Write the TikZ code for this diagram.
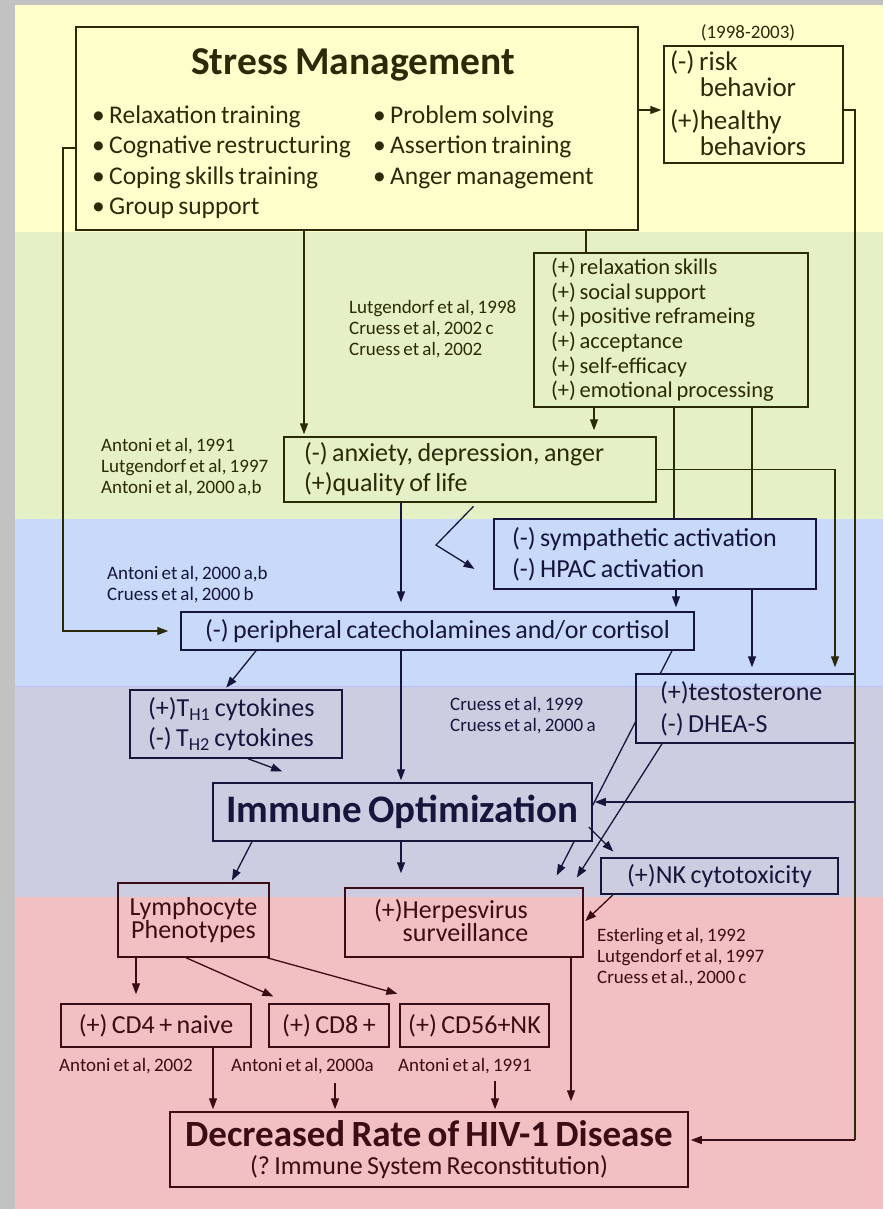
\documentclass[tikz,border=0pt]{standalone}
\usepackage{fontspec}
\setmainfont{Carlito}[WordSpace=0.75]
\usetikzlibrary{arrows.meta}
\frenchspacing
\definecolor{bgray}{HTML}{C2C2C2}
\definecolor{byellow}{HTML}{FFFFCC}
\definecolor{bgreen}{HTML}{E6F0C6}
\definecolor{bblue}{HTML}{C9D9FA}
\definecolor{blav}{HTML}{CDCDE2}
\definecolor{bpink}{HTML}{F2C0C3}
\definecolor{inkY}{HTML}{2A2A08}
\definecolor{inkB}{HTML}{16163C}
\definecolor{inkP}{HTML}{3A0C14}
\newcommand\bodyfont{\fontsize{26}{30}\selectfont}
\newcommand\citefont{\fontsize{19}{21}\selectfont}
\newcommand\bigfont{\fontsize{39.5}{42}\selectfont\bfseries}
\begin{document}
\begin{tikzpicture}[x=1pt,y=-1pt,
    box/.style={draw,line width=1.5pt,inner sep=0pt,font=\bodyfont},
    cite/.style={inner sep=0pt,align=flush left,font=\citefont,anchor=west},
    ln/.style={line width=1.3pt},
    arr/.style={line width=1.3pt,-{Triangle[length=11pt,width=8pt]},shorten >=2pt}]
    \useasboundingbox (0,0) rectangle (883,1209);
    \fill[bgray] (0,0) rectangle (883,1209);
    \fill[byellow] (15,5) rectangle (883,232);
    \fill[bgreen] (15,232) rectangle (883,519);
    \fill[bblue] (15,519) rectangle (883,686);
    \fill[blav] (15,686) rectangle (883,897);
    \fill[bpink] (15,897) rectangle (883,1209);
    \draw[blue!25] (15,686) -- (883,686);

    \node[box,color=inkY,minimum width=562pt,minimum height=203pt] (stress) at (357,128.5) {};
    \node[color=inkY,font=\bigfont,inner sep=0pt] (smtitle) at (353,65) {Stress Management};
    \node[color=inkY,font=\fontsize{25.5}{30.5}\selectfont,align=flush left,inner sep=0pt,anchor=west] (smleft) at (92,162) {• Relaxation training\\• Cognative restructuring\\• Coping skills training\\• Group support};
    \node[color=inkY,font=\fontsize{25.5}{30.5}\selectfont,align=flush left,inner sep=0pt,anchor=west] (smright) at (373,147) {• Problem solving\\• Assertion training\\• Anger management};
    \node[cite,color=inkY,anchor=center] (years) at (748,33) {(1998-2003)};
    \node[box,color=inkY,minimum width=179pt,minimum height=117pt,text width=167pt,align=flush left,font=\fontsize{27}{26}\selectfont] (risk) at (753.5,104.5) {(-) risk\\\phantom{(+)}behavior\\[7pt](+)healthy\\\phantom{(+)}behaviors};

    \node[box,color=inkY,minimum width=274pt,minimum height=154pt,text width=240pt,align=flush left,font=\fontsize{22.5}{24.6}\selectfont] (relax) at (671,330) {(+) relaxation skills\\(+) social support\\(+) positive reframeing\\(+) acceptance\\(+) self-efficacy\\(+) emotional processing};
    \node[cite,color=inkY] (cite1) at (349,329) {Lutgendorf et al, 1998\\Cruess et al, 2002 c\\Cruess et al, 2002};
    \node[box,color=inkY,minimum width=372pt,minimum height=65pt,text width=332pt,align=flush left] (anx) at (470,469.5) {(-) anxiety, depression, anger\\(+)quality of life};
    \node[cite,color=inkY] (cite2) at (101,467) {Antoni et al, 1991\\Lutgendorf et al, 1997\\Antoni et al, 2000 a,b};

    \node[box,color=inkB,minimum width=322pt,minimum height=70pt,text width=286pt,align=flush left,font=\fontsize{26}{31}\selectfont] (symp) at (655,554) {(-) sympathetic activation\\(-) HPAC activation};
    \node[cite,color=inkB] (cite3) at (107,585) {Antoni et al, 2000 a,b\\Cruess et al, 2000 b};
    \node[box,color=inkB,minimum width=513pt,minimum height=38pt] (peri) at (437.5,631) {(-) peripheral catecholamines and/or cortisol};
    \node[box,color=inkB,minimum width=219pt,minimum height=69pt,text width=171pt,align=flush left,font=\fontsize{26}{32}\selectfont] (testo) at (745.5,708.5) {(+)testosterone\\(-) DHEA-S};
    \node[box,color=inkB,minimum width=212pt,minimum height=68pt,text width=176pt,align=flush left] (th) at (236,724) {(+)T\textsubscript{H1} cytokines\\(-) T\textsubscript{H2} cytokines};
    \node[cite,color=inkB] (cite4) at (450,716) {Cruess et al, 1999\\Cruess et al, 2000 a};
    \node[box,color=inkB,minimum width=379pt,minimum height=58pt,font=\fontsize{39}{40}\selectfont\bfseries] (imm) at (402.5,812) {Immune Optimization};
    \node[box,color=inkB,minimum width=237pt,minimum height=36pt] (nk) at (719.5,876) {(+)NK cytotoxicity};

    \node[box,color=inkP,minimum width=151pt,minimum height=74pt,align=center,font=\fontsize{26}{23.5}\selectfont] (lym) at (193.5,920) {Lymphocyte\\Phenotypes};
    \node[box,color=inkP,minimum width=238pt,minimum height=69pt,text width=180pt,align=flush left,font=\fontsize{26}{23.5}\selectfont] (herp) at (464,922.5) {(+)Herpesvirus\\\phantom{(+)}surveillance};
    \node[cite,color=inkP] (cite5) at (597,957) {Esterling et al, 1992\\Lutgendorf et al, 1997\\Cruess et al., 2000 c};
    \node[box,color=inkP,minimum width=190pt,minimum height=43pt] (cd4) at (156,1025.5) {(+) CD4 + naive};
    \node[box,color=inkP,minimum width=120pt,minimum height=43pt] (cd8) at (329,1025.5) {(+) CD8 +};
    \node[box,color=inkP,minimum width=149pt,minimum height=43pt] (cd56) at (474.5,1025.5) {(+) CD56+NK};
    \node[cite,color=inkP] (cite6) at (59,1066) {Antoni et al, 2002};
    \node[cite,color=inkP] (cite7) at (231,1066) {Antoni et al, 2000a};
    \node[cite,color=inkP] (cite8) at (398,1066) {Antoni et al, 1991};
    \node[box,color=inkP,minimum width=518pt,minimum height=75pt,align=center] (hiv) at (429,1149.5) {{\fontsize{37}{38}\selectfont\bfseries Decreased Rate of HIV-1 Disease}\\[-2pt](? Immune System Reconstitution)};

    \coordinate (rtop) at (855,110);
    \coordinate (rmid) at (855,802);
    \coordinate (rbot) at (855,1140);
    \coordinate (lft) at (63,148);
    \coordinate (chev) at (436,545);
    \coordinate (thtip) at (284,772);

    \draw[arr,color=inkY] (stress.east |- rtop) -- (risk.west |- rtop);
    \draw[ln,color=inkY] (risk.east |- rtop) -- (rtop) -- (rbot);
    \draw[arr,color=inkB] (rmid) -- (imm.east |- rmid);
    \draw[arr,color=inkP] (rbot) -- (hiv.east |- rbot);
    \draw[arr,color=inkY,shorten >=12pt] (stress.west |- lft) -- (lft) |- (peri.west);
    \draw[arr,color=inkY] (304,0 |- stress.south) -- (304,0 |- anx.north);
    \draw[ln,color=inkY] (586,0 |- stress.south) -- (586,0 |- relax.north);
    \draw[arr,color=inkY,shorten >=6pt] (594,0 |- relax.south) -- (594,0 |- anx.north);
    \draw[ln,color=inkY] (674,0 |- relax.south) -- (674,0 |- symp.north);
    \draw[ln,color=inkY] (752,0 |- relax.south) -- (752,0 |- symp.north);
    \draw[arr,color=inkB,shorten >=6pt] (752,0 |- symp.south) -- (752,0 |- testo.north);
    \draw[arr,color=inkY,shorten >=6pt] (anx.east) -| (835,0 |- testo.north);
    \draw[arr,color=inkB,shorten >=4pt] (676,0 |- symp.south) -- (676,0 |- peri.north);
    \draw[arr,color=inkB,shorten >=9pt] (401,0 |- anx.south) -- (401,0 |- peri.north);
    \draw[arr,color=inkB,shorten <=5pt] (477,0 |- anx.south) -- (chev) -- ([shift={(-17,16)}]symp.west);
    \draw[arr,color=inkB] (256,0 |- peri.south) -- (225,0 |- th.north);
    \draw[arr,color=inkB] (401,0 |- peri.south) -- (401,0 |- imm.north);
    \draw[arr,color=inkB] (248,0 |- th.south) -- (thtip);
    \begin{scope}[even odd rule]
        \clip (0,0) rectangle (883,1209) (testo.south west) rectangle (testo.north east) (imm.south west) rectangle (imm.north east);
        \draw[arr,color=inkB] (672,0 |- peri.south) -- ([shift={(-28,-10)}]herp.north east);
    \end{scope}
    \draw[arr,color=inkB] (662,0 |- testo.south) -- ([shift={(-8,-8)}]herp.north east);
    \draw[arr,color=inkB] (252,0 |- imm.south) -- (231,0 |- lym.north);
    \draw[arr,color=inkB,shorten >=14pt] (401,0 |- imm.south) -- (401,0 |- herp.north);
    \draw[arr,color=inkB,shorten >=8pt] ([shift={(-4,15)}]imm.east) -- (619,0 |- nk.north);
    \draw[arr,color=inkP] (613,0 |- nk.south) -- (herp.east);
    \draw[arr,color=inkP,shorten >=9pt] (136,0 |- lym.south) -- (136,0 |- cd4.north);
    \draw[arr,color=inkP] (186,0 |- lym.south) -- ([shift={(7,-6)}]cd8.north west);
    \draw[arr,color=inkP] (267,0 |- lym.south) -- ([shift={(0,-9)}]cd56.north west);
    \draw[arr,color=inkP] (213,0 |- cd4.south) -- (213,0 |- hiv.north);
    \draw[arr,color=inkP,shorten <=9pt] (335,0 |- cite7.south) -- (335,0 |- hiv.north);
    \draw[arr,color=inkP,shorten <=7pt] (495,0 |- cite8.south) -- (495,0 |- hiv.north);
    \draw[arr,color=inkP,shorten >=10pt] (571,0 |- herp.south) -- (571,0 |- hiv.north);
\end{tikzpicture}
\end{document}
